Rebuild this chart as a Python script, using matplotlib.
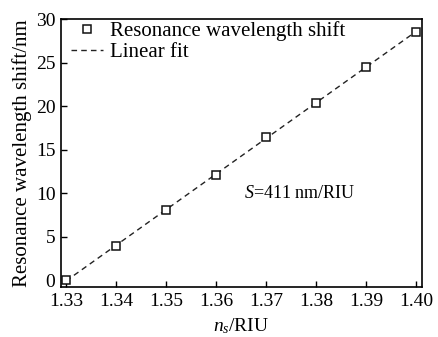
import numpy as np
import matplotlib
matplotlib.use("Agg")
import matplotlib.pyplot as plt

n_s = [1.33, 1.34, 1.35, 1.36, 1.37, 1.38, 1.39, 1.40]
shift = [0.0, 3.9, 8.0, 12.1, 16.4, 20.4, 24.5, 28.5]
xticks = [1.33, 1.34, 1.35, 1.36, 1.37, 1.38, 1.39, 1.40]
xticklabels = ["1.33", "1.34", "1.35", "1.36", "1.37", "1.38", "1.39", "1.40"]
yticks = [0, 5, 10, 15, 20, 25, 30]

plt.rcParams['font.family'] = ['Liberation Serif', 'DejaVu Serif']
plt.rcParams['mathtext.fontset'] = 'custom'
plt.rcParams['mathtext.rm'] = 'Liberation Serif'
plt.rcParams['mathtext.it'] = 'Liberation Serif:italic'

fig = plt.figure(figsize=(4.38, 3.37), dpi=100)
ax = fig.add_axes([61/438, 1 - 287/337, (422-61)/438, (287-19)/337])

coef = np.polyfit(n_s, shift, 1)
xf = np.array([n_s[0], n_s[-1]])
ax.plot(xf, np.polyval(coef, xf), '--', color='#222222', lw=1.0, dashes=(4, 3), label='Linear fit', zorder=2)
ax.plot(n_s, shift, 's', mfc='white', mec='#111111', mew=1.1, ms=6, ls='none',
        label='Resonance wavelength shift', zorder=3)

ax.set_xlim(1.329, 1.4012)
ax.set_ylim(-0.8, 30)
ax.set_xticks(xticks)
ax.set_xticklabels(xticklabels)
ax.set_yticks(yticks)
ax.tick_params(direction='in', length=4, width=1, labelsize=14, pad=4, top=False, right=False)
for s in ax.spines.values():
    s.set_linewidth(1.2)

ax.set_xlabel(r'$n_s$/RIU', fontsize=14, labelpad=5)
ax.set_ylabel('Resonance wavelength shift/nm', fontsize=15, labelpad=3)

ax.text(1.3655, 10.0, r'$S$=411 nm/RIU', fontsize=13, va='center', ha='left')

h, l = ax.get_legend_handles_labels()
ax.legend([h[1], h[0]], [l[1], l[0]], loc='upper left', frameon=False, fontsize=15,
          handlelength=1.5, handletextpad=0.35, borderaxespad=0.1, labelspacing=0.05,
          bbox_to_anchor=(0.0, 1.03), markerscale=0.9)

fig.savefig('out.png', dpi=100)
